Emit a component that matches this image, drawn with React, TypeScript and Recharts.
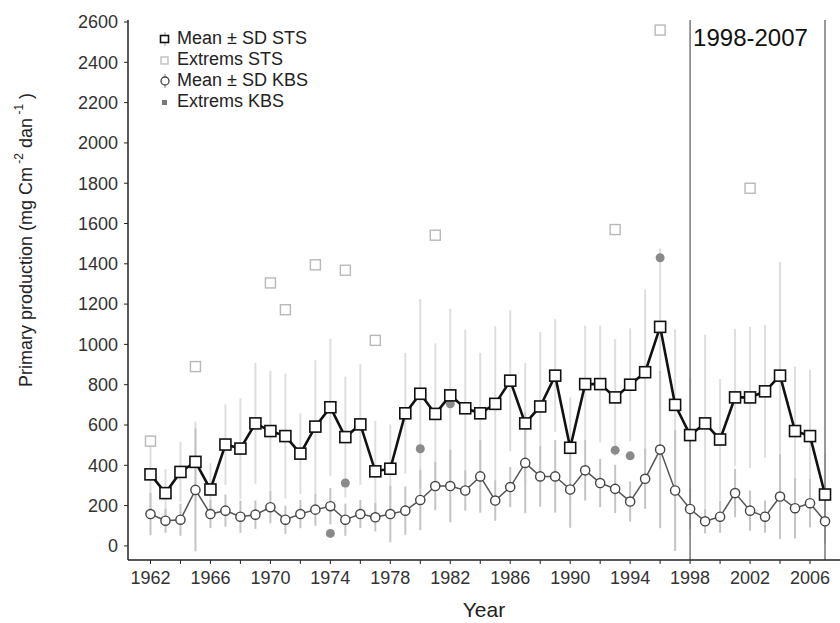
import React from 'react';
import {
  ComposedChart,
  Line,
  Scatter,
  XAxis,
  YAxis,
  ErrorBar,
  ReferenceLine,
  Label,
  Legend,
} from 'recharts';

const years = [
  1962, 1963, 1964, 1965, 1966, 1967, 1968, 1969, 1970, 1971, 1972, 1973, 1974, 1975, 1976,
  1977, 1978, 1979, 1980, 1981, 1982, 1983, 1984, 1985, 1986, 1987, 1988, 1989, 1990, 1991,
  1992, 1993, 1994, 1995, 1996, 1997, 1998, 1999, 2000, 2001, 2002, 2003, 2004, 2005, 2006,
  2007,
];

// STS = mean, SD
const stsMean = [
  355, 262, 367, 417, 280, 503, 483, 608, 570, 545, 458, 592, 688, 540, 603, 370, 383, 658,
  755, 655, 747, 683, 658, 705, 820, 608, 692, 845, 487, 803, 803, 737, 800, 862, 1087, 700,
  550, 608, 528, 737, 737, 767, 845, 570, 545, 255,
];
const stsSd = [
  180, 120, 150, 200, 130, 200, 250, 300, 300, 310, 200, 330, 340, 300, 300, 250, 220, 300,
  470, 350, 430, 390, 300, 385, 350, 300, 370, 280, 250, 290, 290, 290, 280, 410, 390, 375,
  280, 440, 300, 340, 350, 330, 565, 320, 330, 200,
];

// KBS = mean, SD
const kbsMean = [
  158, 125, 130, 278, 158, 175, 145, 155, 192, 130, 158, 180, 197, 130, 158, 142, 158, 175,
  228, 297, 297, 275, 345, 225, 292, 412, 345, 345, 280, 375, 312, 283, 220, 333, 478, 275,
  183, 122, 145, 262, 175, 145, 245, 187, 212, 122,
];
const kbsSd = [
  105, 60, 80, 305, 70, 80, 80, 70, 80, 70, 70, 80, 90, 80, 70, 70, 140, 120, 150, 120, 180,
  100, 180, 100, 100, 250, 150, 180, 190, 150, 120, 120, 100, 150, 390, 300, 100, 60, 80, 120,
  100, 80, 210, 150, 120, 110,
];

// extremes
const stsExtremeYears = [1962, 1965, 1970, 1971, 1973, 1975, 1977, 1981, 1993, 1996, 2002];
const stsExtremeValues = [520, 890, 1305, 1172, 1395, 1368, 1020, 1542, 1570, 2560, 1775];
const kbsExtremeYears = [1966, 1974, 1975, 1980, 1982, 1993, 1994, 1996];
const kbsExtremeValues = [285, 62, 312, 482, 705, 475, 447, 1430];

const xTicks = [
  1962, 1964, 1966, 1968, 1970, 1972, 1974, 1976, 1978, 1980, 1982, 1984, 1986, 1988, 1990,
  1992, 1994, 1996, 1998, 2000, 2002, 2004, 2006,
];
const xTickLabels = [
  '1962', '', '1966', '', '1970', '', '1974', '', '1978', '', '1982', '', '1986', '', '1990',
  '', '1994', '', '1998', '', '2002', '', '2006',
];
const yTicks = [0, 200, 400, 600, 800, 1000, 1200, 1400, 1600, 1800, 2000, 2200, 2400, 2600];

const rows = years.map((year, i) => ({
  year,
  sts: stsMean[i],
  stsErr: stsSd[i],
  kbs: kbsMean[i],
  kbsErr: kbsSd[i],
}));
const stsExtremes = stsExtremeYears.map((year, i) => ({ year, value: stsExtremeValues[i] }));
const kbsExtremes = kbsExtremeYears.map((year, i) => ({ year, value: kbsExtremeValues[i] }));

const FONT = '"Liberation Sans", Arial, sans-serif';

const SquareDot = (props: any) => {
  const { cx, cy } = props;
  if (cx == null || cy == null) return null;
  return <rect x={cx - 5.5} y={cy - 5.5} width={11} height={11} fill="#fff" stroke="#111" strokeWidth={1.6} />;
};

const KbsDot = (props: any) => {
  const { cx, cy } = props;
  if (cx == null || cy == null) return null;
  return <circle cx={cx} cy={cy} r={4.6} fill="#fff" stroke="#444" strokeWidth={1.4} />;
};

const ExtStsShape = (props: any) => {
  const { cx, cy } = props;
  return <rect x={cx - 5} y={cy - 5} width={10} height={10} fill="#fff" stroke="#b8b8b8" strokeWidth={1.4} />;
};

const ExtKbsShape = (props: any) => {
  const { cx, cy } = props;
  return <circle cx={cx} cy={cy} r={4.5} fill="#8a8a8a" />;
};

const YTitle = () => (
  <text
    x={26}
    y={240}
    transform="rotate(-90, 26, 240)"
    textAnchor="middle"
    dominantBaseline="central"
    fontFamily={FONT}
    fontSize={18}
    fill="#222">
    Primary production (mg Cm
    <tspan fontSize={12} dy={-7}> -2</tspan>
    <tspan dy={7}> dan</tspan>
    <tspan fontSize={12} dy={-7}> -1</tspan>
    <tspan dy={7}> )</tspan>
  </text>
);

const PeriodLabel = (props: any) => {
  const { viewBox } = props;
  return (
    <text x={viewBox.x + 3} y={viewBox.y + 26} fontFamily={FONT} fontSize={24} fill="#111">
      1998-2007
    </text>
  );
};

const legendItems = [
  { label: 'Mean \u00b1 SD STS', icon: 'sts' },
  { label: 'Extrems STS', icon: 'extSts' },
  { label: 'Mean \u00b1 SD KBS', icon: 'kbs' },
  { label: 'Extrems KBS', icon: 'extKbs' },
];

const LegendIcon = ({ kind }: { kind: string }) => (
  <svg width={14} height={14} style={{ marginRight: 5 }}>
    {kind === 'sts' && (
      <g>
        <line x1={7} y1={0} x2={7} y2={14} stroke="#bbb" strokeWidth={1.5} />
        <rect x={2.5} y={3.5} width={8} height={7} fill="#fff" stroke="#111" strokeWidth={1.6} />
      </g>
    )}
    {kind === 'extSts' && <rect x={3} y={4} width={7} height={7} fill="#fff" stroke="#bbb" strokeWidth={1.3} />}
    {kind === 'kbs' && (
      <g>
        <line x1={7} y1={0} x2={7} y2={14} stroke="#999" strokeWidth={1.2} />
        <circle cx={7} cy={7} r={4} fill="#fff" stroke="#444" strokeWidth={1.3} />
      </g>
    )}
    {kind === 'extKbs' && <rect x={4} y={5} width={5} height={5} fill="#777" />}
  </svg>
);

const LegendBox = () => (
  <div style={{ fontFamily: FONT, fontSize: 18, color: '#222', lineHeight: '21px' }}>
    {legendItems.map((item) => (
      <div key={item.label} style={{ display: 'flex', alignItems: 'center' }}>
        <LegendIcon kind={item.icon} />
        <span>{item.label}</span>
      </div>
    ))}
  </div>
);

const App = () => {
  return (
    <div style={{ position: 'absolute', left: 0, top: 0, background: '#fff' }}>
      <ComposedChart
        width={840}
        height={623}
        data={rows}
        margin={{ top: 20, right: 0, bottom: 0, left: 0 }}>
        <XAxis
          type="number"
          dataKey="year"
          domain={[1960.5, 2008]}
          ticks={xTicks}
          tickFormatter={(v: number) => xTickLabels[xTicks.indexOf(v)] ?? ''}
          height={63}
          tickSize={4}
          tickMargin={7}
          axisLine={{ stroke: '#222', strokeWidth: 1.5 }}
          tickLine={{ stroke: '#222' }}
          tick={{ fontFamily: FONT, fontSize: 18, fill: '#333' }}
          allowDataOverflow>
          <Label
            value="Year"
            position="insideBottom"
            offset={6}
            style={{ fontFamily: FONT, fontSize: 21, fill: '#222' }}
          />
        </XAxis>
        <YAxis
          type="number"
          domain={[-70, 2610]}
          ticks={yTicks}
          width={128}
          tickSize={4}
          tickMargin={6}
          axisLine={{ stroke: '#222', strokeWidth: 1.5 }}
          tickLine={{ stroke: '#222' }}
          tick={{ fontFamily: FONT, fontSize: 18, fill: '#333' }}
          allowDataOverflow>
          <Label content={<YTitle />} />
        </YAxis>
        <Legend
          verticalAlign="middle"
          align="center"
          layout="horizontal"
          wrapperStyle={{ top: 28, left: 158, width: 'auto' }}
          content={<LegendBox />}
        />

        {/* SD whiskers behind everything */}
        <Line
          dataKey="sts"
          stroke="none"
          dot={false}
          activeDot={false}
          legendType="none"
          isAnimationActive={false}>
          <ErrorBar dataKey="stsErr" width={0} stroke="#dedede" strokeWidth={2} direction="y" />
        </Line>
        <Line
          dataKey="kbs"
          stroke="none"
          dot={false}
          activeDot={false}
          legendType="none"
          isAnimationActive={false}>
          <ErrorBar dataKey="kbsErr" width={0} stroke="#c4c4c4" strokeWidth={2} direction="y" />
        </Line>

        <ReferenceLine x={1998} stroke="#777" strokeWidth={1.5}>
          <Label content={<PeriodLabel />} />
        </ReferenceLine>
        <ReferenceLine x={2007} stroke="#777" strokeWidth={1.5} />

        <Scatter
          data={stsExtremes}
          dataKey="value"
          shape={<ExtStsShape />}
          legendType="none"
          isAnimationActive={false}
        />
        <Scatter
          data={kbsExtremes}
          dataKey="value"
          shape={<ExtKbsShape />}
          legendType="none"
          isAnimationActive={false}
        />

        <Line
          dataKey="kbs"
          stroke="#555"
          strokeWidth={1.5}
          dot={<KbsDot />}
          activeDot={false}
          isAnimationActive={false}
        />
        <Line
          dataKey="sts"
          stroke="#111"
          strokeWidth={2.6}
          dot={<SquareDot />}
          activeDot={false}
          isAnimationActive={false}
        />
      </ComposedChart>
    </div>
  );
};

export default App;
